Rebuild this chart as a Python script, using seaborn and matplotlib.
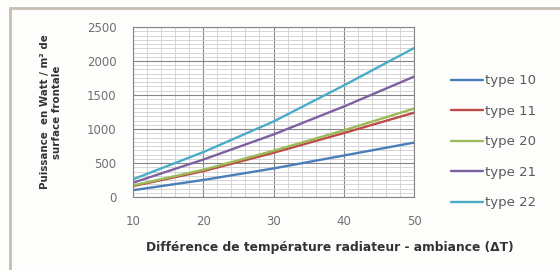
import matplotlib
matplotlib.use('Agg')
import matplotlib.pyplot as plt
import pandas as pd
import seaborn as sns
from matplotlib.lines import Line2D
from matplotlib.ticker import MultipleLocator


delta_t = [10, 20, 30, 40, 50]

type_10 = [100, 250, 420, 610, 800]
type_11 = [160, 380, 650, 940, 1240]
type_20 = [170, 400, 680, 980, 1300]
type_21 = [210, 550, 920, 1330, 1770]
type_22 = [260, 660, 1110, 1640, 2190]

series_names = ['type 10', 'type 11', 'type 20', 'type 21', 'type 22']
series_colors = ['#4a7ebb', '#be4b48', '#9bbb59', '#7d60a0', '#4bacc6']


def build_frame() -> pd.DataFrame:
  rows = []
  for name, values in zip(series_names, [type_10, type_11, type_20, type_21, type_22]):
    for t, v in zip(delta_t, values):
      rows.append({'dT': t, 'P': v, 'serie': name})
  return pd.DataFrame(rows)


def main() -> None:
  sns.set_style('white')
  plt.rcParams['font.family'] = ['DejaVu Sans']

  df = build_frame()

  fig = plt.figure(figsize=(5.6, 2.7), dpi=100)
  fig.patch.set_facecolor('#fdfdfc')
  ax = fig.add_axes([133 / 560, 1 - 197 / 270, 281 / 560, 170 / 270])
  ax.set_facecolor('white')

  sns.lineplot(data=df, x='dT', y='P', hue='serie', hue_order=series_names,
               palette=series_colors, linewidth=1.7, ax=ax, legend=False)

  ax.set_xlim(10, 50)
  ax.set_ylim(0, 2500)
  ax.xaxis.set_major_locator(MultipleLocator(10))
  ax.xaxis.set_minor_locator(MultipleLocator(2))
  ax.yaxis.set_major_locator(MultipleLocator(500))
  ax.yaxis.set_minor_locator(MultipleLocator(62.5))
  ax.grid(which='major', color='#858585', linewidth=0.8)
  ax.grid(which='minor', color='#cfcfcf', linewidth=0.6)
  ax.set_axisbelow(True)
  ax.tick_params(which='both', length=0, labelsize=8.5, labelcolor='#707070')
  ax.tick_params(axis='y', pad=12)
  ax.tick_params(axis='x', pad=13)
  for s in ax.spines.values():
    s.set_color('#858585')
    s.set_linewidth(0.8)

  ax.set_xlabel('')
  ax.set_ylabel('')
  fig.text(330 / 560, 1 - 248 / 270, 'Différence de température radiateur - ambiance (ΔT)',
           ha='center', va='center', fontsize=8.8, fontweight='bold', color='#333333')
  fig.text(51 / 560, 1 - 112 / 270, 'Puissance  en Watt / m² de\nsurface frontale',
           ha='center', va='center', rotation=90, fontsize=7.4, fontweight='bold',
           color='#333333', linespacing=1.15)

  handles = [Line2D([], [], color=c, linewidth=1.7) for c in series_colors]
  leg = fig.legend(handles, series_names, loc='upper left',
                   bbox_to_anchor=(446 / 560, 1 - 69 / 270), frameon=False,
                   fontsize=9.5, handlelength=2.4, handletextpad=0.15,
                   labelspacing=1.33, borderaxespad=0)
  for t in leg.get_texts():
    t.set_color('#5a5a5a')

  # outer frame (only left and top edges are visible)
  fig.add_artist(Line2D([10 / 560, 10 / 560], [0, 1 - 8 / 270], color='#c7beb2', linewidth=2))
  fig.add_artist(Line2D([10 / 560, 1], [1 - 8 / 270, 1 - 8 / 270], color='#c7beb2', linewidth=2))

  fig.savefig('out.png', dpi=100, facecolor=fig.get_facecolor())


if __name__ == '__main__':
  main()
